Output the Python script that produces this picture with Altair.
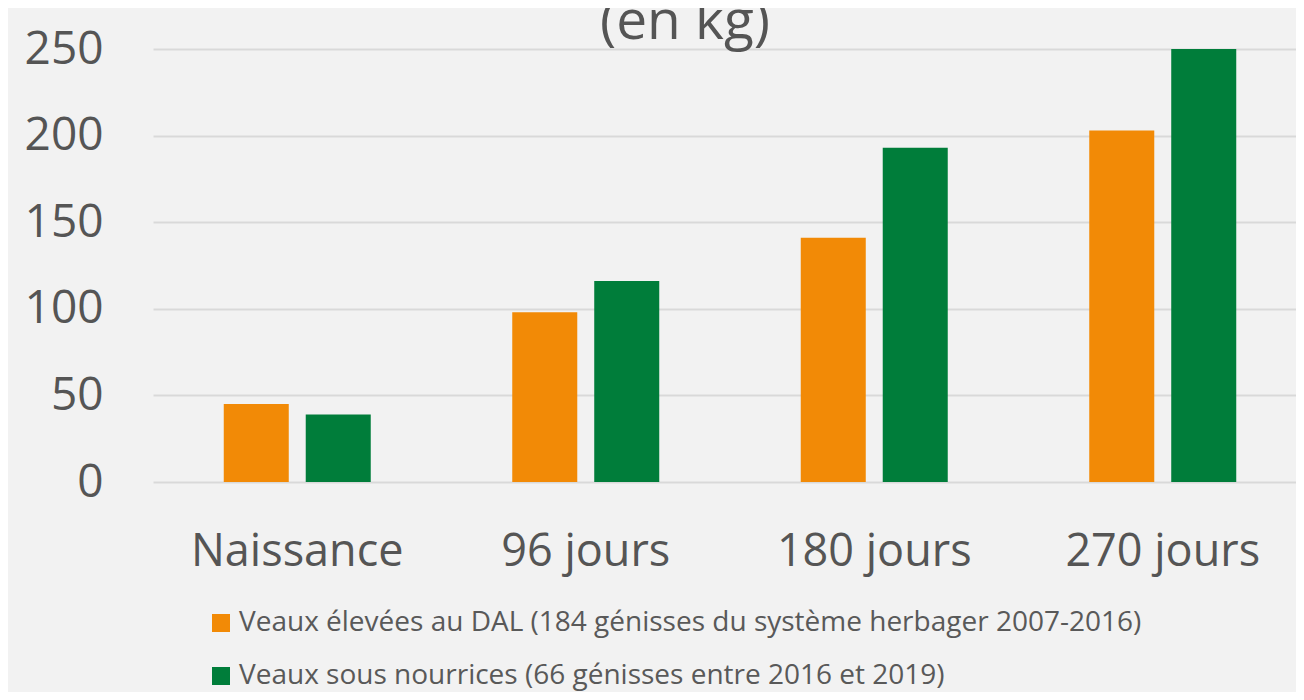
import altair as alt
import pandas as pd

categories = ["Naissance", "96 jours", "180 jours", "270 jours"]
series = [
    "Veaux élevées au DAL (184 génisses du système herbager 2007-2016)",
    "Veaux sous nourrices (66 génisses entre 2016 et 2019)",
]
dal_values = [45, 98, 141, 203]
nourrice_values = [39, 116, 193, 250]
colors = ["#F28A06", "#007D3A"]
y_ticks = [0, 50, 100, 150, 200, 250]
title_text = ["(en kg)"]

rows = []
for c, v in zip(categories, dal_values):
    rows.append({"cat": c, "serie": series[0], "val": v})
for c, v in zip(categories, nourrice_values):
    rows.append({"cat": c, "serie": series[1], "val": v})
df = pd.DataFrame(rows)

FONT = "Open Sans"
TXT = "#555555"

bars = (
    alt.Chart(df)
    .mark_bar()
    .encode(
        x=alt.X(
            "cat:N",
            sort=categories,
            title=None,
            scale=alt.Scale(paddingInner=0, paddingOuter=0, range=[0, 1154]),
            axis=alt.Axis(
                labelFontSize=45,
                labelFont=FONT,
                labelColor=TXT,
                labelPadding=47,
                ticks=False,
                domain=False,
                labelAngle=0,
                labelLimit=400,
            ),
        ),
        xOffset=alt.XOffset(
            "serie:N",
            sort=series,
            scale=alt.Scale(paddingInner=0.207, paddingOuter=0.863),
        ),
        y=alt.Y(
            "val:Q",
            title=None,
            scale=alt.Scale(domain=[0, 250], nice=False),
            axis=alt.Axis(
                values=y_ticks,
                labelFontSize=46,
                labelFont=FONT,
                labelColor=TXT,
                labelPadding=50,
                ticks=False,
                domain=False,
                gridColor="#d9d9d9",
                gridWidth=2,
            ),
        ),
        color=alt.Color(
            "serie:N",
            sort=series,
            scale=alt.Scale(domain=series, range=colors),
            legend=alt.Legend(
                title=None,
                orient="none",
                legendX=54,
                legendY=560,
                direction="vertical",
                symbolType="square",
                symbolSize=324,
                symbolStrokeWidth=0,
                labelFontSize=28,
                labelFont=FONT,
                labelColor="#595959",
                labelLimit=1100,
                rowPadding=25,
                labelOffset=4,
            ),
        ),
    )
)

title = (
    alt.Chart(pd.DataFrame({"t": title_text}))
    .mark_text(
        font=FONT,
        fontSize=55,
        color=TXT,
        align="center",
        baseline="alphabetic",
    )
    .encode(text="t:N", x=alt.value(532), y=alt.value(-10))
)

chart = (
    alt.layer(bars, title)
    .properties(
        width=1143,
        height=433,
        padding={"left": 145, "top": 41, "right": 0, "bottom": 210},
        autosize=alt.AutoSizeParams(type="none"),
        background="#f2f2f2",
    )
    .configure_view(stroke=None)
)

chart.save("out.html", embed_options={"renderer": "svg", "actions": False})
